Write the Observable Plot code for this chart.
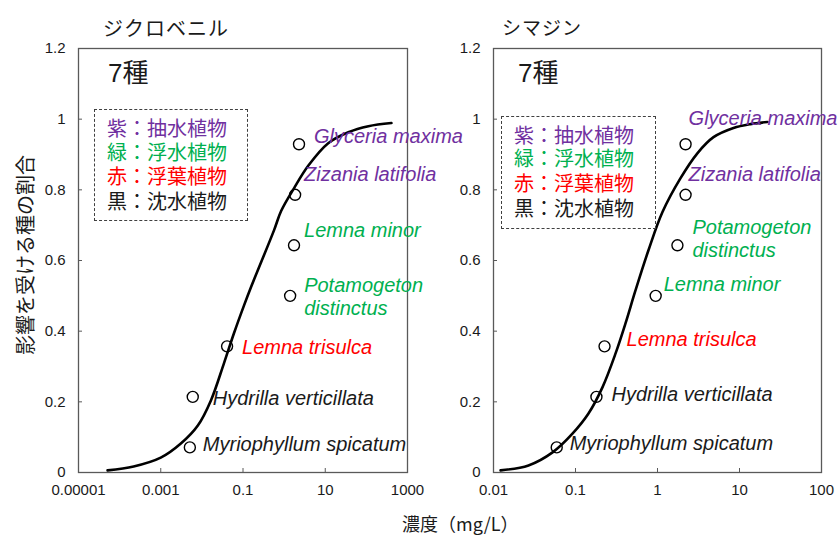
<!DOCTYPE html>
<html><head><meta charset="utf-8">
<script src="https://cdn.jsdelivr.net/npm/d3@7"></script>
<script src="https://cdn.jsdelivr.net/npm/@observablehq/plot@0.6"></script>
<style>
body{margin:0;background:#fff;}
#root{position:relative;width:838px;height:537px;overflow:hidden;font-family:"Liberation Sans","Noto Sans CJK JP",sans-serif;color:#1a1a1a;}
.abs{position:absolute;white-space:nowrap;line-height:1;}
.plot{position:absolute;top:0;}
.legend{position:absolute;box-sizing:border-box;border:1.3px dashed #404040;font-size:20px;font-family:"Noto Sans CJK JP",sans-serif;}
.legend div{position:absolute;left:12px;line-height:20px;height:20px;white-space:nowrap;}
</style></head><body><div id="root"></div>
<script>
// ---- data ----
const chemicals = ["ジクロベニル", "シマジン"];
const speciesCount = "7種";
const legendRows = ["紫：抽水植物", "緑：浮水植物", "赤：浮葉植物", "黒：沈水植物"];
const legendColors = ["#7030A0", "#00B050", "#FF0000", "#1a1a1a"];
const typeColor = {"抽水": "#7030A0", "浮水": "#00B050", "浮葉": "#FF0000", "沈水": "#1a1a1a"};
const yLabel = "影響を受ける種の割合";
const xLabel = "濃度（mg/L）";

const fraction = [0.071, 0.214, 0.357, 0.5, 0.643, 0.786, 0.929];

// ジクロベニル
const speciesL = ["Myriophyllum spicatum", "Hydrilla verticillata", "Lemna trisulca", "Potamogeton\ndistinctus", "Lemna minor", "Zizania latifolia", "Glyceria maxima"];
const typeL = ["沈水", "沈水", "浮葉", "浮水", "浮水", "抽水", "抽水"];
const concL = [0.0051, 0.006, 0.041, 1.4, 1.74, 1.85, 2.3];
const curveXL = [5.09e-5, 2.19e-4, 1e-3, 3.08e-3, 7.98e-3, 0.0166, 0.0344, 0.0603, 0.106, 0.157, 0.570, 0.845, 1.75, 3.85, 11.8, 36.4, 112, 407];
const curveYL = [0.006, 0.017, 0.042, 0.082, 0.133, 0.204, 0.309, 0.394, 0.473, 0.525, 0.686, 0.740, 0.805, 0.868, 0.932, 0.963, 0.980, 0.989];

// シマジン
const speciesR = ["Myriophyllum spicatum", "Hydrilla verticillata", "Lemna trisulca", "Lemna minor", "Potamogeton\ndistinctus", "Zizania latifolia", "Glyceria maxima"];
const typeR = ["沈水", "沈水", "浮葉", "浮水", "浮水", "抽水", "抽水"];
const concR = [0.059, 0.18, 0.226, 0.95, 1.75, 2.2, 2.2];
const curveXR = [0.0122, 0.0267, 0.0525, 0.0918, 0.144, 0.213, 0.308, 0.407, 0.540, 0.776, 1.15, 1.91, 3.08, 4.82, 8.45, 13.6, 21.9];
const curveYR = [0.006, 0.020, 0.057, 0.110, 0.167, 0.241, 0.337, 0.422, 0.516, 0.629, 0.737, 0.833, 0.904, 0.949, 0.975, 0.986, 0.992];

const xTicksL = [1e-5, 1e-3, 0.1, 10, 1000];
const xTickLabelsL = ["0.00001", "0.001", "0.1", "10", "1000"];
const xTicksR = [0.01, 0.1, 1, 10, 100];
const xTickLabelsR = ["0.01", "0.1", "1", "10", "100"];
const yTicks = [0, 0.2, 0.4, 0.6, 0.8, 1, 1.2];
const yTickLabels = ["0", "0.2", "0.4", "0.6", "0.8", "1", "1.2"];

// ---- layout (label offsets in px from the point) ----
const offsetsL = [[13, -4], [20, 1], [15, 0], [14, 0], [10, -16], [9, -21], [15, -9]];
const offsetsR = [[13, -5], [15, -3], [22, -8], [8, -12], [15, -7], [3, -21], [3, -27]];

function panel(cfg) {
  const pts = cfg.species.map((s, i) => ({s, x: cfg.conc[i], y: fraction[i], t: cfg.type[i]}));
  const curve = cfg.cx.map((x, i) => ({x, y: cfg.cy[i]}));
  const xMap = new Map(cfg.xTicks.map((t, i) => [t, cfg.xLabels[i]]));
  const yMap = new Map(yTicks.map((t, i) => [t, yTickLabels[i]]));
  return Plot.plot({
    width: cfg.width, height: 537,
    marginLeft: cfg.ml, marginRight: cfg.mr, marginTop: 48, marginBottom: 65,
    x: {type: "log", domain: cfg.domain, axis: null},
    y: {domain: [0, 1.2], axis: null},
    style: {overflow: "visible", background: "transparent", fontFamily: '"Liberation Sans", Arial, sans-serif', color: "#1a1a1a"},
    marks: [
      Plot.frame({stroke: "#595959", strokeWidth: 1.3}),
      Plot.axisX(cfg.xTicks, {tickSize: -4, tickPadding: 16, tickFormat: d => xMap.get(d), fontSize: 15, label: null, stroke: "#595959", fill: "#1a1a1a"}),
      Plot.axisY(yTicks, {tickSize: -4, tickPadding: 17, tickFormat: d => yMap.get(d), fontSize: 15, label: null, stroke: "#595959", fill: "#1a1a1a"}),
      Plot.line(curve, {x: "x", y: "y", stroke: "black", strokeWidth: 2.6, curve: "catmull-rom"}),
      Plot.dot(pts, {x: "x", y: "y", r: 5.5, stroke: "black", strokeWidth: 1.4, fill: "none"}),
      ...pts.map((p, i) => Plot.text([p], {
        x: "x", y: "y", text: "s", dx: cfg.off[i][0], dy: cfg.off[i][1],
        textAnchor: "start", fontStyle: "italic", fontSize: 20, lineHeight: 1.15,
        fill: typeColor[p.t]
      }))
    ]
  });
}

const root = document.getElementById("root");
const left = panel({width: 420, ml: 78, mr: 13, domain: [1e-5, 1000], species: speciesL, conc: concL, type: typeL, cx: curveXL, cy: curveYL, xTicks: xTicksL, xLabels: xTickLabelsL, off: offsetsL});
const right = panel({width: 418, ml: 73, mr: 17, domain: [0.01, 100], species: speciesR, conc: concR, type: typeR, cx: curveXR, cy: curveYR, xTicks: xTicksR, xLabels: xTickLabelsR, off: offsetsR});
left.classList.add("plot"); left.style.left = "0px";
right.classList.add("plot"); right.style.left = "420px";
root.appendChild(left); root.appendChild(right);

function addText(txt, css) {
  const d = document.createElement("div");
  d.className = "abs"; d.textContent = txt;
  Object.assign(d.style, css);
  root.appendChild(d);
  return d;
}
addText(chemicals[0], {left: "103px", top: "18px", fontSize: "20px", fontFamily: '"Noto Sans CJK JP", sans-serif', letterSpacing: "1px"});
addText(chemicals[1], {left: "502px", top: "17px", fontSize: "19px", fontFamily: '"Noto Sans CJK JP", sans-serif', letterSpacing: "1px"});
addText(speciesCount, {left: "108px", top: "60px", fontSize: "26px"});
addText(speciesCount, {left: "518px", top: "60px", fontSize: "26px"});
addText(yLabel, {left: "25px", top: "255px", fontSize: "20px", fontFamily: '"Noto Sans CJK JP", sans-serif', transform: "translate(-50%,-50%) rotate(-90deg)"});
addText(xLabel, {left: "402px", top: "514px", fontSize: "18px", fontFamily: '"Noto Sans CJK JP", sans-serif'});

function addLegend(l, t, w, h, rowTops) {
  const box = document.createElement("div");
  box.className = "legend";
  Object.assign(box.style, {left: l + "px", top: t + "px", width: w + "px", height: h + "px"});
  legendRows.forEach((r, i) => {
    const row = document.createElement("div");
    row.textContent = r; row.style.color = legendColors[i];
    row.style.top = rowTops[i] + "px";
    box.appendChild(row);
  });
  root.appendChild(box);
}
addLegend(94, 109, 154, 112, [8, 32, 56, 81]);
addLegend(501, 116, 155, 113, [8, 31, 56, 81]);
</script>
</body></html>
